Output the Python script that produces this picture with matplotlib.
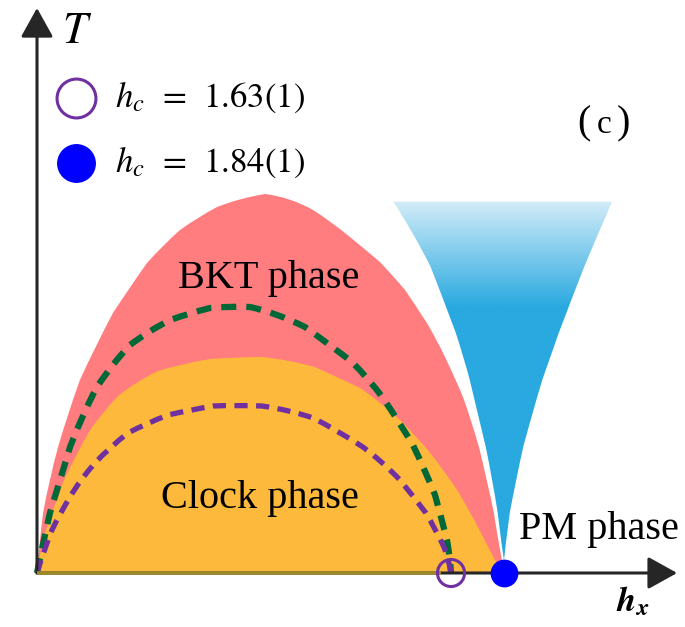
import numpy as np
import matplotlib.pyplot as plt
from matplotlib.colors import LinearSegmentedColormap
from matplotlib.patches import PathPatch
from matplotlib.path import Path

plt.rcParams['mathtext.fontset'] = 'custom'
plt.rcParams['mathtext.rm'] = 'STIXGeneral'
plt.rcParams['mathtext.it'] = 'STIXGeneral:italic'
plt.rcParams['mathtext.bf'] = 'STIXGeneral:italic:bold'

# critical fields (value, last-digit error)
hc_values = [1.63, 1.84]
hc_errors = [1, 1]

# BKT phase boundary (h_x, T)
bkt_h = [0.000, 0.008, 0.024, 0.047, 0.083, 0.122, 0.169, 0.228, 0.299, 0.366,
         0.433, 0.496, 0.563, 0.634, 0.709, 0.799, 0.898, 0.996, 1.087, 1.161,
         1.232, 1.295, 1.350, 1.406, 1.449, 1.492, 1.535, 1.575, 1.606, 1.650,
         1.677, 1.701, 1.740, 1.772, 1.799, 1.819, 1.840]
bkt_T = [0.000, 0.140, 0.300, 0.465, 0.630, 0.800, 0.965, 1.130, 1.300, 1.430,
         1.550, 1.640, 1.715, 1.780, 1.830, 1.875, 1.895, 1.880, 1.815, 1.755,
         1.680, 1.615, 1.555, 1.480, 1.415, 1.335, 1.250, 1.165, 1.080, 0.965,
         0.880, 0.800, 0.630, 0.465, 0.300, 0.130, 0.000]

# clock phase boundary
clock_h = [0.000, 0.016, 0.035, 0.059, 0.106, 0.169, 0.209, 0.256, 0.319, 0.394,
           0.476, 0.563, 0.681, 0.799, 0.886, 0.996, 1.094, 1.181, 1.272, 1.358,
           1.429, 1.496, 1.555, 1.606, 1.654, 1.697, 1.736, 1.772, 1.803, 1.840]
clock_T = [0.000, 0.140, 0.215, 0.300, 0.465, 0.630, 0.715, 0.800, 0.885, 0.960,
           1.010, 1.045, 1.070, 1.080, 1.080, 1.065, 1.030, 0.980, 0.925, 0.850,
           0.765, 0.680, 0.590, 0.505, 0.415, 0.325, 0.230, 0.140, 0.065, 0.000]

# upper transition line (green dashes)
upper_h = [0.000, 0.020, 0.051, 0.091, 0.130, 0.181, 0.236, 0.299, 0.366, 0.445,
           0.524, 0.602, 0.681, 0.760, 0.839, 0.945, 1.055, 1.165, 1.240, 1.311,
           1.362, 1.429, 1.480, 1.528, 1.567, 1.594, 1.614, 1.626, 1.630]
upper_T = [0.000, 0.130, 0.300, 0.465, 0.630, 0.800, 0.930, 1.050, 1.140, 1.215,
           1.265, 1.300, 1.325, 1.335, 1.330, 1.300, 1.230, 1.130, 1.055, 0.965,
           0.875, 0.750, 0.640, 0.515, 0.390, 0.265, 0.165, 0.080, 0.000]

# lower transition line (purple dashes)
lower_h = [0.000, 0.031, 0.059, 0.091, 0.130, 0.169, 0.228, 0.287, 0.358, 0.433,
           0.516, 0.602, 0.693, 0.787, 0.886, 0.996, 1.087, 1.181, 1.283, 1.362,
           1.429, 1.484, 1.531, 1.571, 1.602, 1.622, 1.630]
lower_T = [0.000, 0.130, 0.215, 0.300, 0.380, 0.465, 0.550, 0.630, 0.700, 0.750,
           0.790, 0.815, 0.835, 0.840, 0.835, 0.815, 0.775, 0.715, 0.630, 0.555,
           0.465, 0.380, 0.300, 0.215, 0.130, 0.065, 0.000]

# PM funnel, left edge top->tip, right edge tip->top
pm_left_h = [1.398, 1.480, 1.547, 1.598, 1.646, 1.677, 1.701, 1.732, 1.764,
             1.791, 1.811, 1.827, 1.839]
pm_left_T = [1.860, 1.700, 1.530, 1.365, 1.200, 1.080, 0.965, 0.800, 0.630,
             0.465, 0.300, 0.130, 0.035]
pm_right_h = [1.846, 1.864, 1.888, 1.917, 1.953, 1.992, 2.024, 2.057, 2.106,
              2.157, 2.213, 2.268]
pm_right_T = [0.130, 0.300, 0.465, 0.630, 0.800, 0.965, 1.080, 1.200, 1.365,
              1.530, 1.700, 1.860]

phase_labels = ['BKT phase', 'Clock phase', 'PM phase']

RED = '#FF7C7F'
ORANGE = '#FDB93C'
GREEN = '#006837'
PURPLE = '#7030A0'
BLUE = '#0000FF'
SKY = '#29A9E0'
INK = '#262626'

W, H = 685, 627
fig = plt.figure(figsize=(W / 100, H / 100), dpi=100)
ax = fig.add_axes([0, 0, 1, 1])
ax.set_xlim(-37 / 254, (W - 37) / 254)
ax.set_ylim(-(H - 573) / 200, 573 / 200)
ax.axis('off')


def frac(px, py):
    return px / W, 1 - py / H


def curve(h, T, closed=False):
    # quadratic bezier through the even points, odd points act as handles
    verts = list(zip(h, T))
    codes = [Path.MOVETO] + [Path.CURVE3] * (len(verts) - 1)
    if (len(verts) - 1) % 2:
        codes[-1] = Path.LINETO
    if closed:
        verts.append(verts[0])
        codes.append(Path.CLOSEPOLY)
    return Path(verts, codes)


ax.add_patch(PathPatch(curve(bkt_h, bkt_T, True), fc=RED, lw=0, zorder=1))
ax.add_patch(PathPatch(curve(clock_h, clock_T, True), fc=ORANGE, lw=0, zorder=2))
ax.add_patch(PathPatch(curve(upper_h, upper_T), fc='none', ec=GREEN, lw=4.5,
                       linestyle=(0, (2.4, 1.6)), capstyle='butt', zorder=3))
ax.add_patch(PathPatch(curve(lower_h, lower_T), fc='none', ec=PURPLE, lw=3.8,
                       linestyle=(0, (2.5, 1.6)), capstyle='butt', zorder=3))

# PM funnel with a vertical gradient
funnel = PathPatch(curve(pm_left_h + pm_right_h, pm_left_T + pm_right_T, True),
                   fc='none', ec='white', lw=1.0, zorder=5)
ax.add_patch(funnel)
sky_cmap = LinearSegmentedColormap.from_list(
    'sky', [(0.0, SKY), (0.715, SKY), (1.0, '#D2ECF8')])
grad = np.linspace(0, 1, 256).reshape(-1, 1)
im = ax.imshow(grad, cmap=sky_cmap, origin='lower', aspect='auto',
               extent=(min(pm_left_h), max(pm_right_h), 0, max(pm_left_T)),
               interpolation='bilinear', zorder=4)
im.set_clip_path(funnel)

# axes with arrows
arrow = dict(arrowstyle='-|>,head_length=0.9,head_width=0.5', mutation_scale=20,
             lw=2.2, color=INK, shrinkA=0, shrinkB=0)
ax.annotate('', xy=(2.52, 0), xytext=(0, 0), arrowprops=arrow, zorder=6)
ax.annotate('', xy=(0, 2.825), xytext=(0, 0), arrowprops=arrow, zorder=6)
ax.plot([0, hc_values[0] - 0.04], [0, 0], color='#9C8A28', lw=2.6,
        solid_capstyle='butt', zorder=7)

# critical points on the h_x axis
ax.scatter([hc_values[0]], [0], s=380, facecolor='none', edgecolor=PURPLE,
           lw=2.2, zorder=8, clip_on=False)
ax.scatter([hc_values[1]], [0], s=400, color=BLUE, lw=0, zorder=8, clip_on=False)

# legend
marker_styles = [dict(mfc='white', mec=PURPLE, mew=2.2),
                 dict(mfc=BLUE, mec=BLUE, mew=0)]
for i, (hc, err) in enumerate(zip(hc_values, hc_errors)):
    y = 98 + 65 * i
    ax.plot(*frac(76, y), 'o', ms=28, transform=ax.transAxes, **marker_styles[i])
    ax.text(*frac(115, y + 9), f'$h_c$  =  {hc:.2f}({err})', fontsize=25,
            family='STIXGeneral', va='baseline', ha='left', transform=ax.transAxes)

# axis titles and panel tag
ax.text(*frac(62, 43), '$T$', fontsize=32, va='baseline', ha='left',
        transform=ax.transAxes)
ax.text(*frac(616, 611), r'$\mathbf{h_x}$', fontsize=25, va='baseline',
        ha='left', transform=ax.transAxes)
tag = dict(family='Liberation Serif', va='baseline', transform=ax.transAxes)
ax.text(*frac(577, 133), '(', fontsize=29, ha='left', **tag)
ax.text(*frac(604, 133), 'c', fontsize=24, ha='center', **tag)
ax.text(*frac(630, 133), ')', fontsize=29, ha='right', **tag)

serif = dict(family='Liberation Serif', fontsize=29, va='baseline')
ax.text(*frac(269, 288), phase_labels[0], ha='center', transform=ax.transAxes, **serif)
ax.text(*frac(260, 508), phase_labels[1], ha='center', transform=ax.transAxes, **serif)
ax.text(*frac(519, 539), phase_labels[2], ha='left', transform=ax.transAxes, **serif)

fig.savefig('out.png', dpi=100)
